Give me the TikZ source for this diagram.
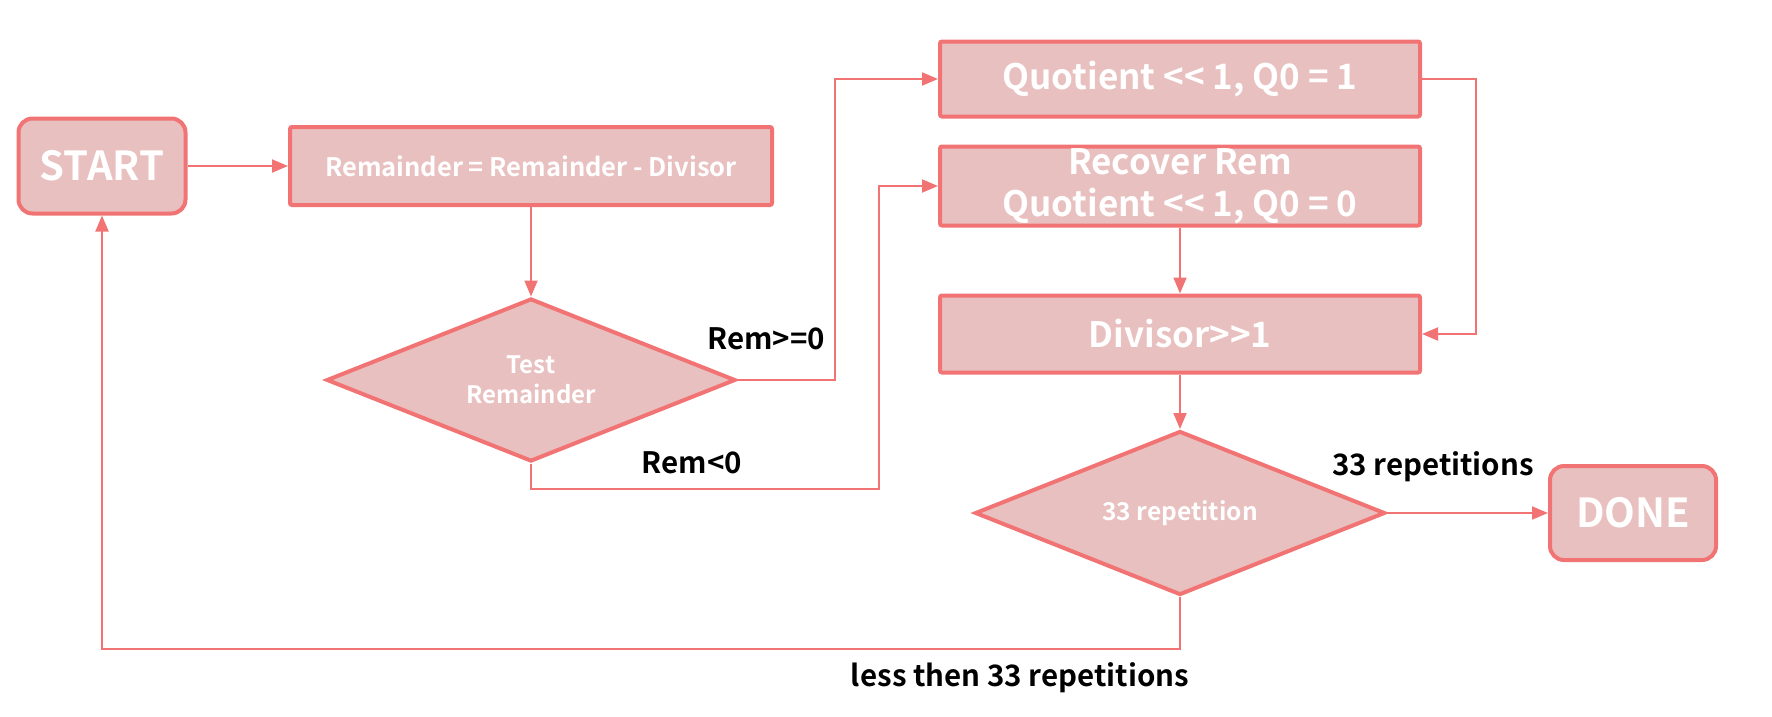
\documentclass[tikz,border=0pt]{standalone}
\usepackage{fontspec}
\setmainfont{Noto Sans CJK KR}[BoldFont={Noto Sans CJK KR Bold}]
\usetikzlibrary{shapes.geometric,arrows.meta}
\definecolor{pfill}{RGB}{233,192,192}
\definecolor{pline}{RGB}{242,115,115}
\begin{document}
\begin{tikzpicture}[x=1pt,y=-1pt,
 box/.style={draw=pline,fill=pfill,line width=4pt,rounded corners=2pt,inner sep=0pt,text=white,font=\bfseries,align=center},
 term/.style={box,rounded corners=14pt},
 dia/.style={draw=pline,fill=pfill,line width=4pt,diamond,aspect=2.5,inner sep=0pt,text=white,align=center},
 conn/.style={draw=pline,line width=2pt,-{Triangle[length=16pt,width=13pt]}},
 lbl/.style={font=\bfseries\fontsize{29.5}{34}\selectfont,text=black}]
\useasboundingbox (0,0) rectangle (1772,716);
\node[term,minimum width=167pt,minimum height=95pt,font=\bfseries\fontsize{40}{46}\selectfont] (start) at (102,166) {START};
\node[box,minimum width=482pt,minimum height=78pt,font=\bfseries\fontsize{25.5}{30}\selectfont] (rem) at (531,166) {Remainder = Remainder - Divisor};
\node[dia,minimum width=409pt,minimum height=163pt,font=\bfseries\fontsize{24}{30}\selectfont] (test) at (531,380) {Test\\Remainder};
\node[box,minimum width=480pt,minimum height=75pt,font=\bfseries\fontsize{35}{40}\selectfont] (q) at (1180,79) {Quotient {<}{<} 1, Q0 = 1};
\node[box,minimum width=480pt,minimum height=79pt,font=\bfseries\fontsize{35}{42}\selectfont] (rec) at (1180,186) {Recover Rem\\Quotient {<}{<} 1, Q0 = 0};
\node[box,minimum width=480pt,minimum height=77pt,font=\bfseries\fontsize{35}{40}\selectfont] (div) at (1180,334) {Divisor{>}{>}1};
\node[dia,minimum width=410pt,minimum height=164pt,font=\bfseries\fontsize{24.5}{30}\selectfont] (rep) at (1180,513) {33 repetition};
\node[term,minimum width=166pt,minimum height=94pt,font=\bfseries\fontsize{40}{46}\selectfont] (done) at (1633,513) {DONE};
\draw[conn] (start.east) -- (rem.west);
\draw[conn] (rem.south) -- (test.north);
\draw[conn] (test.east) -- ++(97,0) |- (q.west);
\draw[conn] (test.south) -- ++(0,25) -- ++(348,0) |- (rec.west);
\draw[conn] (q.east) -- ++(54,0) |- (div.east);
\draw[conn] (rec.south) -- (div.north);
\draw[conn] (div.south) -- (rep.north);
\draw[conn] (rep.east) -- (done.west);
\draw[conn] (rep.south) -- ++(0,52) -| (start.south);
\node[lbl] (l1) at (766,339) {Rem{>}={0}};
\node[lbl] (l2) at (692,463) {Rem{<}0};
\node[lbl] (l3) at (1433,467) {33 repetitions};
\node[lbl] (l4) at (1020,678) {less then 33 repetitions};
\end{tikzpicture}
\end{document}
